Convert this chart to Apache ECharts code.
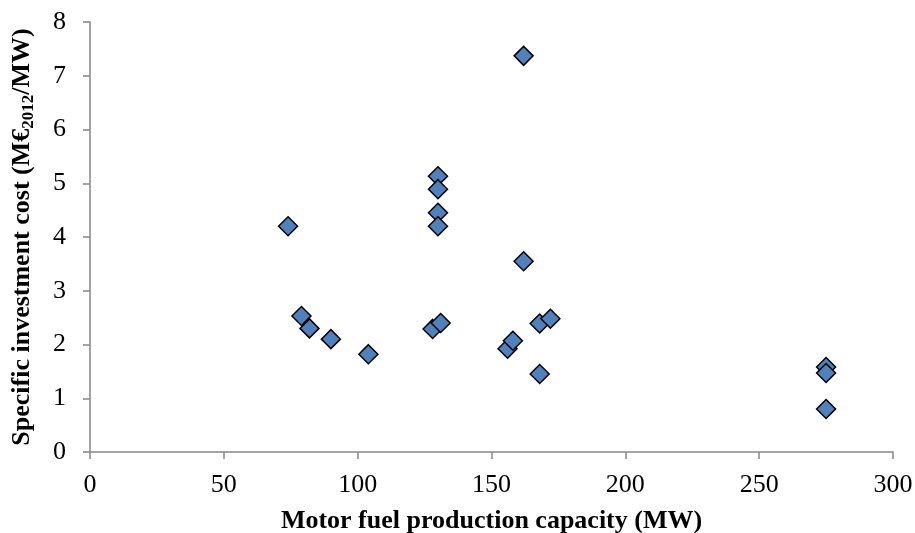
<!DOCTYPE html>
<html>
<head>
<meta charset="utf-8">
<script src="https://cdn.jsdelivr.net/npm/echarts@6/dist/echarts.min.js"></script>
<style>
  html, body { margin: 0; padding: 0; background: #fff; }
  #chart { width: 915px; height: 533px; }
</style>
</head>
<body>
<div id="chart"></div>
<script>
// Motor fuel production capacity (MW) of each plant
var capacityMW = [74, 79, 82, 90, 104, 130, 130, 130, 130, 128, 131, 162, 162, 168, 172, 156, 158, 168, 275, 275, 275];
// Specific investment cost (M€2012/MW)
var specificCost = [4.2, 2.53, 2.3, 2.1, 1.82, 5.13, 4.89, 4.45, 4.2, 2.29, 2.4, 7.37, 3.55, 2.39, 2.48, 1.92, 2.07, 1.45, 1.58, 1.47, 0.8];

var xTicks = { min: 0, max: 300, interval: 50 };
var yTicks = { min: 0, max: 8, interval: 1 };

var points = capacityMW.map(function (c, i) { return [c, specificCost[i]]; });

var serif = '"Liberation Serif", "Times New Roman", serif';
var axisGrey = '#868686';

var chart = echarts.init(document.getElementById('chart'), null, { renderer: 'canvas' });
chart.setOption({
  animation: false,
  backgroundColor: '#ffffff',
  grid: { left: 90, right: 22, top: 22, bottom: 81, containLabel: false, outerBoundsMode: 'none' },
  xAxis: {
    type: 'value',
    min: xTicks.min, max: xTicks.max, interval: xTicks.interval,
    name: 'Motor fuel production capacity (MW)',
    nameLocation: 'middle',
    nameGap: 56,
    nameTextStyle: { fontFamily: serif, fontWeight: 'bold', fontSize: 26, color: '#000' },
    axisLine: { lineStyle: { color: axisGrey, width: 1.5 } },
    axisTick: { show: true, length: 7, lineStyle: { color: axisGrey, width: 1.5 } },
    axisLabel: { fontFamily: serif, fontSize: 26, color: '#000', margin: 20 },
    splitLine: { show: false }
  },
  yAxis: {
    type: 'value',
    min: yTicks.min, max: yTicks.max, interval: yTicks.interval,
    name: '{a|Specific investment cost (M€}{s|2012}{a|/MW)}',
    nameLocation: 'middle',
    nameGap: 53,
    nameTextStyle: {
      fontFamily: serif, fontWeight: 'bold', fontSize: 26, color: '#000',
      rich: {
        a: { fontFamily: serif, fontWeight: 'bold', fontSize: 26, color: '#000' },
        s: { fontFamily: serif, fontWeight: 'bold', fontSize: 17, color: '#000', padding: [12, 0, 0, 0] }
      }
    },
    axisLine: { show: true, lineStyle: { color: axisGrey, width: 1.5 } },
    axisTick: { show: true, length: 7, lineStyle: { color: axisGrey, width: 1.5 } },
    axisLabel: { fontFamily: serif, fontSize: 26, color: '#000', margin: 24 },
    splitLine: { show: false }
  },
  series: [{
    type: 'scatter',
    data: points,
    symbol: 'diamond',
    symbolSize: 19,
    itemStyle: { color: '#4F81BD', borderColor: '#000', borderWidth: 1.5, opacity: 1 }
  }]
});
</script>
</body>
</html>
